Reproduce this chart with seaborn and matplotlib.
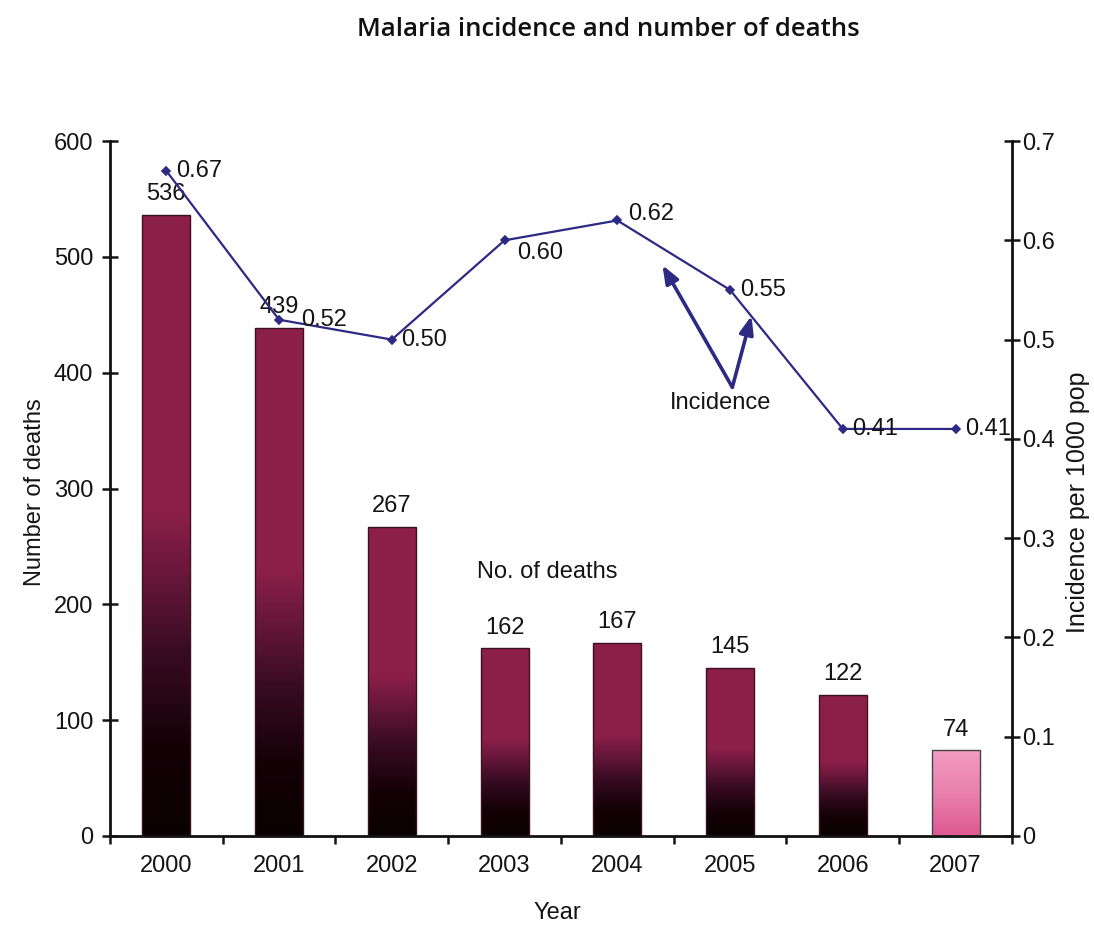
import numpy as np
import pandas as pd
import matplotlib
matplotlib.use("Agg")
import matplotlib.pyplot as plt
import seaborn as sns
from matplotlib.colors import LinearSegmentedColormap

# ---- data ----
years = ["2000", "2001", "2002", "2003", "2004", "2005", "2006", "2007"]
deaths = [536, 439, 267, 162, 167, 145, 122, 74]
incidence = [0.67, 0.52, 0.50, 0.60, 0.62, 0.55, 0.41, 0.41]
death_ticks = [0, 100, 200, 300, 400, 500, 600]
incidence_ticks = [0, 0.1, 0.2, 0.3, 0.4, 0.5, 0.6, 0.7]

sns.set_theme(style="white")
plt.rcParams["font.family"] = ["Liberation Sans", "DejaVu Sans"]
plt.rcParams["text.color"] = "#141414"

LINE_COLOR = "#2d2a84"
TEXT_COLOR = "#141414"
FS = 17

fig = plt.figure(figsize=(10.94, 9.26), dpi=100)
ax = fig.add_axes([0.1005, 0.0972, 0.8245, 0.7505])

# ---- bars: number of deaths ----
df = pd.DataFrame({"Year": years, "Deaths": deaths})
sns.barplot(data=df, x="Year", y="Deaths", ax=ax, width=0.425,
            color="#8b1f47", saturation=1, edgecolor="#3a1222", linewidth=1.0)

dark_cmap = LinearSegmentedColormap.from_list(
    "deaths",
    [(0.0, "#0a0002"), (0.14, "#130106"), (0.30, "#3a0c22"),
     (0.42, "#68173a"), (0.52, "#8b1f47"), (1.0, "#8d2048")])
pink_cmap = LinearSegmentedColormap.from_list(
    "latest", [(0.0, "#dd5892"), (0.5, "#e980ad"), (1.0, "#f29cc0")])

grad = np.linspace(0, 1, 256).reshape(-1, 1)
for i, patch in enumerate(ax.patches):
    x0, w, h = patch.get_x(), patch.get_width(), patch.get_height()
    last = i == len(ax.patches) - 1
    img = ax.imshow(grad, extent=[x0, x0 + w, 0, h], origin="lower",
                    aspect="auto", cmap=pink_cmap if last else dark_cmap,
                    zorder=2, interpolation="bilinear")
    img.set_clip_path(patch)
    patch.set_facecolor("none")
    patch.set_zorder(3)
    if last:
        patch.set_edgecolor("#444444")

for i, v in enumerate(deaths):
    ax.annotate(f"{v}", (i, v), xytext=(0, 7), textcoords="offset points",
                ha="center", va="bottom", fontsize=FS, color=TEXT_COLOR, zorder=6)

ax.set_xlim(-0.5, 7.5)
ax.set_ylim(0, 600)
ax.set_yticks(death_ticks)
ax.set_xticks(range(len(years)))
ax.set_xticklabels(years)
ax.set_xticks(np.arange(-0.5, len(years), 1), minor=True)
ax.set_xlabel("")
ax.set_ylabel("")

ax.tick_params(axis="y", left=True, direction="inout", length=12, width=1.8,
               labelsize=FS, pad=6, colors=TEXT_COLOR)
ax.tick_params(axis="x", which="major", bottom=True, length=0, pad=14,
               labelsize=FS, labelcolor=TEXT_COLOR)
ax.tick_params(axis="x", which="minor", bottom=True, direction="out",
               length=6, width=1.8, color=TEXT_COLOR)

for side in ["top", "right"]:
    ax.spines[side].set_visible(False)
for side in ["left", "bottom"]:
    ax.spines[side].set_linewidth(2.0)
    ax.spines[side].set_color("#111111")

ax.text(3.38, 228, "No. of deaths", ha="center", va="center",
        fontsize=FS, color=TEXT_COLOR)

# ---- line: incidence per 1000 population ----
ax2 = ax.twinx()
sns.pointplot(x=years, y=incidence, ax=ax2, color=LINE_COLOR, markers="D",
              linestyles="-", errorbar=None, markersize=4.5, linewidth=1.6)

# label nudges (points) where a value label would collide with the line or a bar label
label_nudge = {1: (16, 0), 3: (9, -9), 4: (8, 5)}
for i, v in enumerate(incidence):
    ax2.annotate(f"{v:.2f}", (i, v), xytext=label_nudge.get(i, (7, 0)),
                 textcoords="offset points", ha="left", va="center",
                 fontsize=FS, color=TEXT_COLOR, zorder=6)

ax2.set_xlim(-0.5, 7.5)
ax2.set_ylim(0, 0.7)
ax2.set_yticks(incidence_ticks)
ax2.set_yticklabels(["0"] + [f"{t:.1f}" for t in incidence_ticks[1:]])
ax2.set_ylabel("")
ax2.set_xlabel("")
ax2.tick_params(axis="y", right=True, direction="inout", length=12, width=1.8,
                labelsize=FS, pad=1, colors=TEXT_COLOR)
for side in ["top", "left", "bottom"]:
    ax2.spines[side].set_visible(False)
ax2.spines["right"].set_linewidth(2.0)
ax2.spines["right"].set_color("#111111")

# callout arrows pointing at the incidence line
arrow_style = dict(arrowstyle="-|>,head_length=0.9,head_width=0.35",
                   color=LINE_COLOR, lw=2.6, shrinkA=0, shrinkB=0)
ax2.annotate("", xy=(4.40, 0.575), xytext=(5.02, 0.452), arrowprops=arrow_style)
ax2.annotate("", xy=(5.19, 0.524), xytext=(5.02, 0.452), arrowprops=arrow_style)
ax2.text(4.92, 0.436, "Incidence", ha="center", va="center",
         fontsize=FS, color=TEXT_COLOR)

# ---- titles and axis labels ----
fig.text(608 / 1094, 1 - 30 / 926, "Malaria incidence and number of deaths",
         ha="center", va="center", fontsize=18.5, family=["Open Sans", "DejaVu Sans"],
         weight="semibold", color="#111111")
fig.text(35 / 1094, 1 - 492 / 926, "Number of deaths", rotation=90,
         ha="center", va="center", fontsize=FS, color=TEXT_COLOR)
fig.text(1078 / 1094, 1 - 502 / 926, "Incidence per 1000 pop", rotation=90,
         ha="center", va="center", fontsize=18, color=TEXT_COLOR)
fig.text(557 / 1094, 1 - 913 / 926, "Year", ha="center", va="center",
         fontsize=FS, color=TEXT_COLOR)

fig.savefig("out.png", dpi=100)
